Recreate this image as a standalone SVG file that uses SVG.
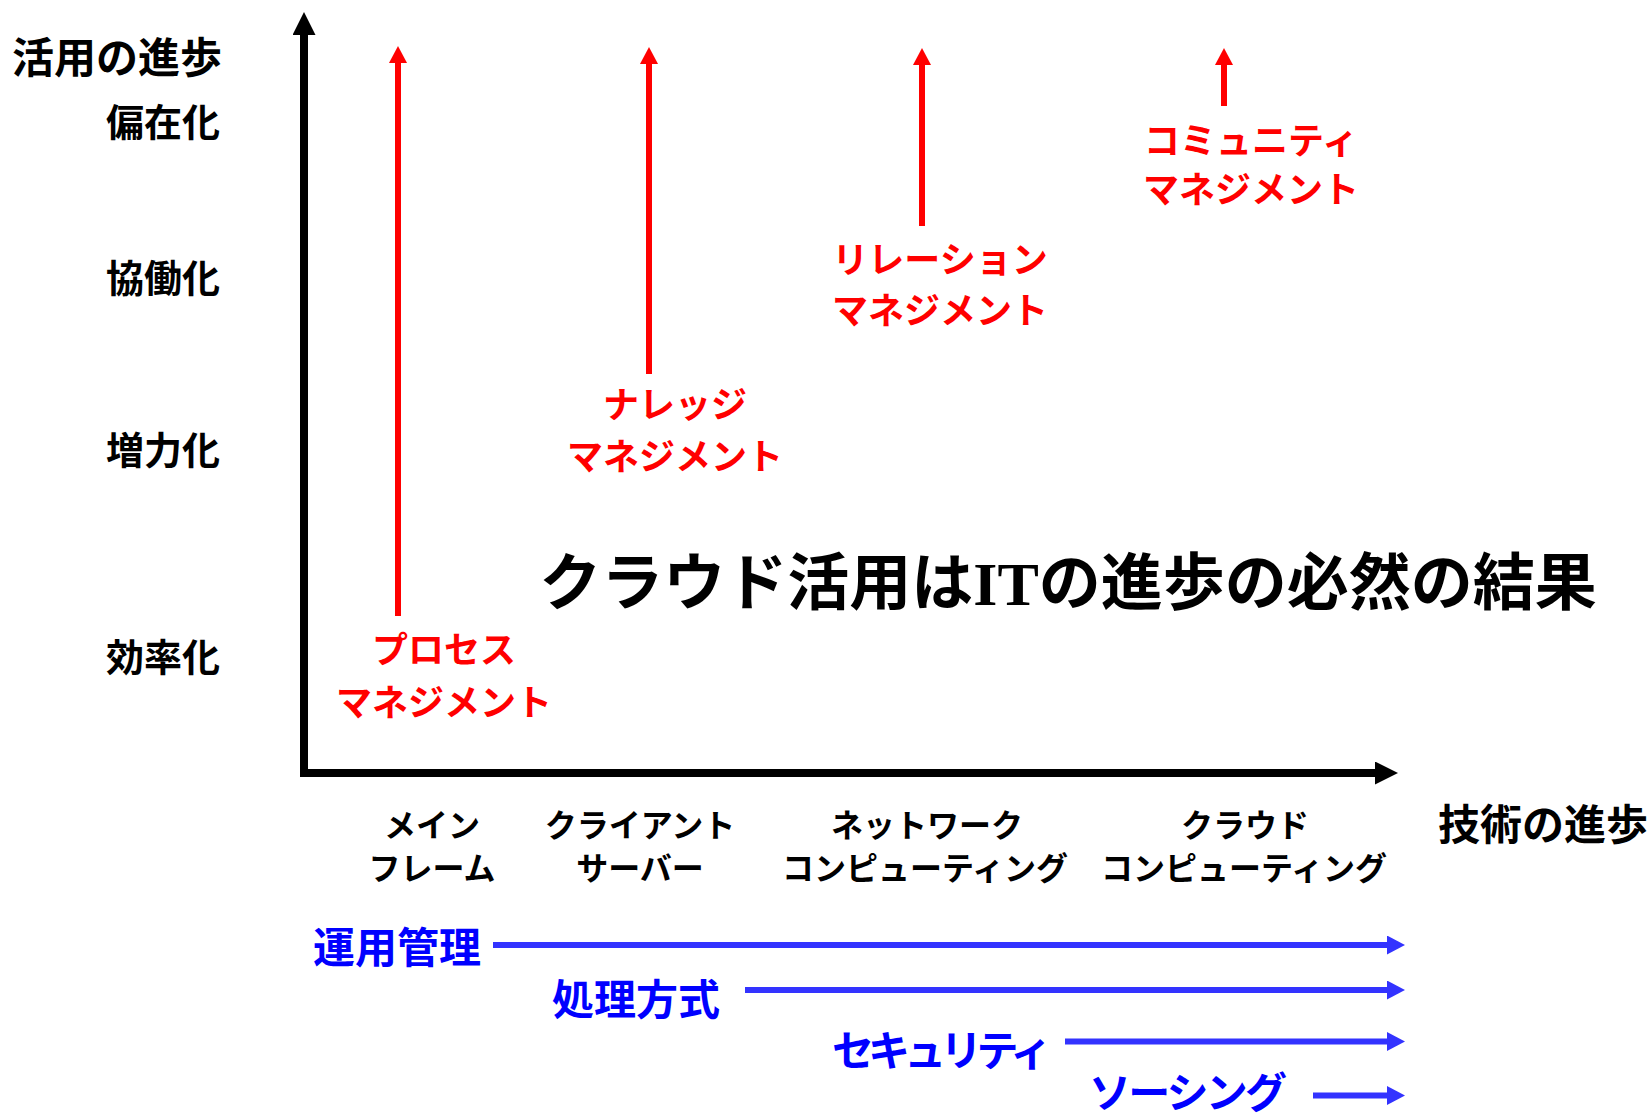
<svg xmlns="http://www.w3.org/2000/svg" width="1652" height="1117" viewBox="0 0 1652 1117">
  <style>
    text { font-family: "Noto Sans CJK JP", "Noto Sans", sans-serif; font-weight: bold; }
    .ax { font-size: 42px; fill: #000; }
    .lv { font-size: 38px; fill: #000; text-anchor: end; }
    .red { font-size: 36px; fill: #ff0000; text-anchor: middle; }
    .tech { font-size: 32px; fill: #000; text-anchor: middle; }
    .blue { font-size: 42px; fill: #0000ff; text-anchor: middle; }
    .title { font-size: 62px; fill: #000; text-anchor: middle; }
    .serif { font-family: "Liberation Serif", "Times New Roman", serif; }
    .axis { fill: none; stroke: #000; stroke-width: 8; stroke-linejoin: miter; }
    .rarr { fill: none; stroke: #ff0000; stroke-width: 6; }
    .barr { fill: none; stroke: #3333ff; stroke-width: 6; }
  </style>
  <defs>
    <marker id="hk" markerUnits="userSpaceOnUse" markerWidth="24" markerHeight="23" refX="0" refY="11.5" orient="auto-start-reverse" viewBox="0 0 24 23">
      <path d="M0,0 L23,11.5 L0,23 Z" fill="#000"/>
    </marker>
    <marker id="hr" markerUnits="userSpaceOnUse" markerWidth="18" markerHeight="18" refX="0" refY="9" orient="auto" viewBox="0 0 18 18">
      <path d="M0,0 L17,9 L0,18 Z" fill="#ff0000"/>
    </marker>
    <marker id="hb" markerUnits="userSpaceOnUse" markerWidth="19" markerHeight="19" refX="0" refY="9.5" orient="auto" viewBox="0 0 19 19">
      <path d="M0,0 L18,9.5 L0,19 Z" fill="#3333ff"/>
    </marker>
  </defs>
  <rect width="1652" height="1117" fill="#fff"/>

  <g id="connectors">
    <path id="axes" class="axis" d="M304,35 L304,773 L1375,773" marker-start="url(#hk)" marker-end="url(#hk)"/>
    <line class="rarr" x1="398" y1="616" x2="398" y2="63" marker-end="url(#hr)"/>
    <line class="rarr" x1="649" y1="374" x2="649" y2="64" marker-end="url(#hr)"/>
    <line class="rarr" x1="922" y1="226" x2="922" y2="65" marker-end="url(#hr)"/>
    <line class="rarr" x1="1224" y1="106" x2="1224" y2="65" marker-end="url(#hr)"/>
    <line class="barr" x1="493" y1="945" x2="1387" y2="945" marker-end="url(#hb)"/>
    <line class="barr" x1="745" y1="990" x2="1387" y2="990" marker-end="url(#hb)"/>
    <line class="barr" x1="1065" y1="1041.5" x2="1387" y2="1041.5" marker-end="url(#hb)"/>
    <line class="barr" x1="1313" y1="1095.5" x2="1387" y2="1095.5" marker-end="url(#hb)"/>
  </g>

  <g id="y-axis-label"><text class="ax" x="117" y="73" text-anchor="middle">活用の進歩</text></g>
  <g id="x-axis-label"><text class="ax" x="1543" y="840" text-anchor="middle">技術の進歩</text></g>

  <g id="level-ubiquitous"><text class="lv" x="220" y="136">偏在化</text></g>
  <g id="level-collaboration"><text class="lv" x="220" y="292">協働化</text></g>
  <g id="level-augmentation"><text class="lv" x="220" y="464">増力化</text></g>
  <g id="level-efficiency"><text class="lv" x="220" y="671">効率化</text></g>

  <g id="process-management">
    <text class="red" x="444" y="663">プロセス</text>
    <text class="red" x="444" y="716">マネジメント</text>
  </g>
  <g id="knowledge-management">
    <text class="red" x="675" y="418">ナレッジ</text>
    <text class="red" x="675" y="470">マネジメント</text>
  </g>
  <g id="relation-management">
    <text class="red" x="940" y="273">リレーション</text>
    <text class="red" x="940" y="324">マネジメント</text>
  </g>
  <g id="community-management">
    <text class="red" x="1251" y="154">コミュニティ</text>
    <text class="red" x="1251" y="203">マネジメント</text>
  </g>

  <g id="title">
    <text class="title" x="1068" y="605">クラウド活用は<tspan class="serif">IT</tspan>の進歩の必然の結果</text>
  </g>

  <g id="tech-mainframe">
    <text class="tech" x="432" y="837">メイン</text>
    <text class="tech" x="432" y="880">フレーム</text>
  </g>
  <g id="tech-client-server">
    <text class="tech" x="640" y="837">クライアント</text>
    <text class="tech" x="640" y="880">サーバー</text>
  </g>
  <g id="tech-network">
    <text class="tech" x="927" y="837">ネットワーク</text>
    <text class="tech" x="925" y="880">コンピューティング</text>
  </g>
  <g id="tech-cloud">
    <text class="tech" x="1245" y="837">クラウド</text>
    <text class="tech" x="1244" y="880">コンピューティング</text>
  </g>

  <g id="row-operations"><text class="blue" x="397" y="963">運用管理</text></g>
  <g id="row-processing"><text class="blue" x="636" y="1015">処理方式</text></g>
  <g id="row-security"><text class="blue" x="942" y="1066" textLength="220" lengthAdjust="spacing">セキュリティ</text></g>
  <g id="row-sourcing"><text class="blue" x="1188" y="1108" textLength="198" lengthAdjust="spacing">ソーシング</text></g>
</svg>
